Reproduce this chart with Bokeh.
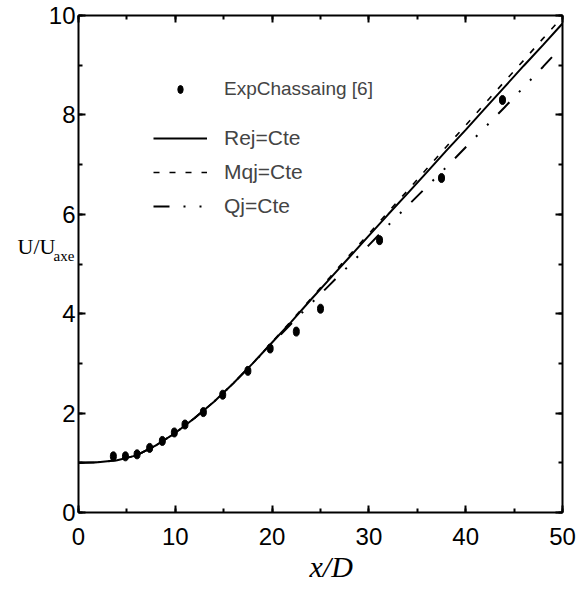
from bokeh.plotting import figure
from bokeh.models import (Range1d, SingleIntervalTicker, FixedTicker, LinearAxis,
                          Legend, LegendItem, Label, CustomLabelingPolicy,
                          CustomJSTickFormatter)
from bokeh.embed import file_html
from bokeh.resources import INLINE

# ---- data ----
x_curve = [0, 2, 4, 6, 8, 10, 12, 14, 16, 18, 20, 22, 24, 26, 28, 30, 32, 34,
           36, 38, 40, 42, 44, 46, 48, 50]
rej_cte = [1.00, 1.01, 1.05, 1.15, 1.35, 1.60, 1.90, 2.23, 2.60, 3.00, 3.42,
           3.84, 4.28, 4.71, 5.14, 5.57, 6.00, 6.42, 6.85, 7.28, 7.70, 8.13,
           8.56, 8.99, 9.41, 9.84]
mqj_cte = [1.00, 1.01, 1.05, 1.15, 1.35, 1.60, 1.90, 2.23, 2.60, 3.00, 3.43,
           3.86, 4.30, 4.74, 5.18, 5.61, 6.05, 6.48, 6.92, 7.36, 7.79, 8.23,
           8.67, 9.10, 9.54, 9.97]
qj_x = [0, 2, 4, 6, 8, 10, 12, 14, 16, 18, 20, 22, 24, 26, 28, 30, 32, 34,
        36, 38, 40, 42, 44, 46, 48, 49]
qj_cte = [1.00, 1.01, 1.05, 1.15, 1.35, 1.60, 1.90, 2.23, 2.60, 3.00, 3.40,
          3.80, 4.20, 4.59, 4.98, 5.38, 5.78, 6.17, 6.56, 6.95, 7.35, 7.75,
          8.15, 8.56, 8.97, 9.18]
exp_x = [3.6, 4.85, 6.05, 7.35, 8.66, 9.9, 11.0, 12.9, 14.9, 17.5, 19.8,
         22.5, 25.0, 31.1, 37.5, 43.8]
exp_y = [1.13, 1.13, 1.17, 1.30, 1.44, 1.61, 1.77, 2.02, 2.37, 2.85, 3.30,
         3.64, 4.10, 5.48, 6.73, 8.30]

label_exp = "ExpChassaing [6]"
label_rej = "Rej=Cte"
label_mqj = "Mqj=Cte"
label_qj = "Qj=Cte"
x_title = "x/D"
y_title_main = "U/U"
y_title_sub = "axe"

# layout constants (where the axis titles sit)
X_TITLE_AT = 26.1
Y_TITLE_AT = 5.35

FONT = "Liberation Sans"
SERIF = "Liberation Serif"

p = figure(width=582, height=589, output_backend="svg", toolbar_location=None,
           x_range=Range1d(0, 50), y_range=Range1d(0, 10),
           min_border_left=78, min_border_right=20, min_border_top=15,
           min_border_bottom=77, x_axis_type=None, y_axis_type=None)
p.outline_line_color = None
p.background_fill_color = "white"
p.border_fill_color = "white"

hide_all = CustomLabelingPolicy(
    code="for (const i of indices) { indices.unset(i) } return indices")


def style_axis(ax, show_labels):
    ax.axis_line_color = "black"
    ax.axis_line_width = 2
    ax.major_tick_in = 7
    ax.major_tick_out = 0
    ax.minor_tick_in = 4
    ax.minor_tick_out = 0
    ax.major_tick_line_width = 2
    ax.minor_tick_line_width = 2
    ax.major_tick_line_color = "black"
    ax.minor_tick_line_color = "black"
    if show_labels:
        ax.major_label_text_font = FONT
        ax.major_label_text_font_size = "24px"
        ax.major_label_text_color = "black"
    else:
        ax.major_label_text_font_size = "1px"
        ax.major_label_standoff = 0
        ax.major_label_policy = hide_all


def title_axis(pos, text, font_size, italic, standoff):
    ax = LinearAxis(ticker=FixedTicker(ticks=[pos]),
                    formatter=CustomJSTickFormatter(args=dict(t=text),
                                                    code="return t"))
    ax.axis_line_color = None
    ax.major_tick_line_color = None
    ax.minor_tick_line_color = None
    ax.major_tick_in = 0
    ax.major_tick_out = 0
    ax.minor_tick_in = 0
    ax.minor_tick_out = 0
    ax.major_label_standoff = standoff
    ax.major_label_text_font = SERIF
    ax.major_label_text_font_size = font_size
    ax.major_label_text_color = "black"
    if italic:
        ax.major_label_text_font_style = "italic"
    return ax


xb = LinearAxis(ticker=SingleIntervalTicker(interval=10, num_minor_ticks=2))
style_axis(xb, True)
xb.major_label_standoff = 15
p.add_layout(xb, "below")

p.add_layout(title_axis(X_TITLE_AT, x_title, "30px", True, 2), "below")

yl = LinearAxis(ticker=SingleIntervalTicker(interval=2, num_minor_ticks=2))
style_axis(yl, True)
yl.major_label_standoff = 3
p.add_layout(yl, "left")

p.add_layout(Label(x=29, y=257, x_units="screen", y_units="screen",
                   text=y_title_sub, text_font=SERIF, text_font_size="15px",
                   text_color="black", text_baseline="alphabetic"), "left")

p.add_layout(title_axis(Y_TITLE_AT, y_title_main, "22px", False, -31), "left")

xt = LinearAxis(ticker=SingleIntervalTicker(interval=10, num_minor_ticks=2))
style_axis(xt, False)
p.add_layout(xt, "above")

yr = LinearAxis(ticker=SingleIntervalTicker(interval=2, num_minor_ticks=2))
style_axis(yr, False)
p.add_layout(yr, "right")

r_rej = p.line(x_curve, rej_cte, line_color="black", line_width=2)
r_mqj = p.line(x_curve, mqj_cte, line_color="black", line_width=1.6,
               line_dash="6 10")
r_qj = p.line(qj_x, qj_cte, line_color="black", line_width=2,
              line_dash="16 14 2 14 2 14")
r_exp = p.ellipse(exp_x, exp_y, width=6, height=9, width_units="screen",
                  height_units="screen", fill_color="black", line_color="black")

leg1 = Legend(items=[LegendItem(label=label_exp, renderers=[r_exp])],
              location=(75, 412), glyph_width=54, glyph_height=10,
              label_height=20, padding=0, margin=0, label_standoff=17,
              border_line_color=None, background_fill_alpha=0,
              label_text_font=FONT, label_text_font_size="19px")
p.add_layout(leg1)

leg2 = Legend(items=[LegendItem(label=label_rej, renderers=[r_rej]),
                     LegendItem(label=label_mqj, renderers=[r_mqj]),
                     LegendItem(label=label_qj, renderers=[r_qj])],
              location=(75, 294), glyph_width=54, glyph_height=20,
              label_height=20, spacing=10, padding=0, margin=0,
              label_standoff=17, border_line_color=None,
              background_fill_alpha=0, label_text_font=FONT,
              label_text_font_size="21px")
p.add_layout(leg2)

open("out.html", "w").write(file_html(p, INLINE))
